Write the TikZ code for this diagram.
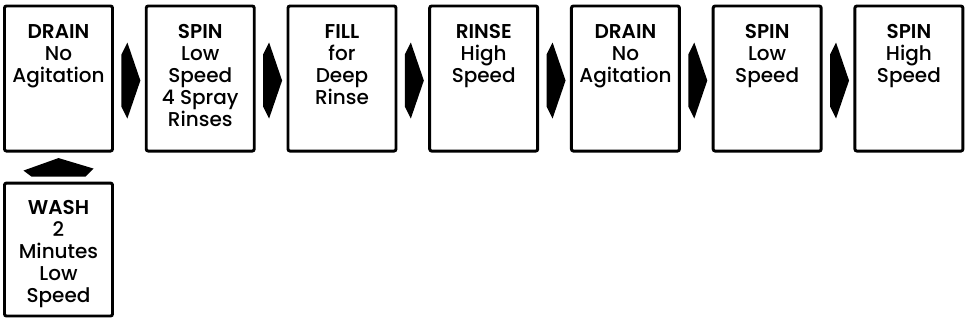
\documentclass[tikz,border=0pt]{standalone}
\usepackage{fontspec}
\setmainfont{Poppins}[UprightFont=* Medium, BoldFont=* SemiBold]
\usetikzlibrary{positioning, calc}

\begin{document}
\begin{tikzpicture}[
    x=0.75pt, y=-0.75pt,
    node distance=24pt and 25.3pt,
    stepbox/.style={draw, line width=2.2pt, rounded corners=1.5pt, outer sep=0pt, minimum width=81pt, inner xsep=1pt, inner ysep=13.9pt, font=\fontsize{15}{16.5}\selectfont,
      execute at begin node={\begin{minipage}[t][#1][t]{79pt}\centering},
      execute at end node={\end{minipage}}},
    stepbox/.default=81pt,
    flow/.style={fill=black}
]
\useasboundingbox (0,0) rectangle (966,323);

% Nodes
\node (drainA) [stepbox, anchor=north west] at (4.5,6) {\textbf{DRAIN}\\No\\Agitation};
\node (spinA) [stepbox, right=of drainA] {\textbf{SPIN}\\Low\\Speed\\4 Spray\\Rinses};
\node (fill) [stepbox, right=of spinA] {\textbf{FILL}\\for\\Deep\\Rinse};
\node (rinse) [stepbox, right=of fill] {\textbf{RINSE}\\High\\Speed};
\node (drainB) [stepbox, right=of rinse] {\textbf{DRAIN}\\No\\Agitation};
\node (spinB) [stepbox, right=of drainB] {\textbf{SPIN}\\Low\\Speed};
\node (spinC) [stepbox, right=of spinB] {\textbf{SPIN}\\High\\Speed};
\node (wash) [stepbox=73.5pt, inner ysep=13.1pt, below=of drainA] {\textbf{WASH}\\2\\Minutes\\Low\\Speed};

% Arrows
\foreach \a/\b in {drainA/spinA, spinA/fill, fill/rinse, rinse/drainB, drainB/spinB, spinB/spinC}
  \fill[flow] ($(\a.east)!0.5!(\b.west)$) +(-8,-24) -- +(-2,-36) -- +(11,2) -- +(-2,40) -- +(-8,28) -- cycle;
\fill[flow] ($(wash.north)!0.5!(drainA.south)$) +(-27,9.5) -- +(-35,3.5) -- +(0,-9) -- +(35,1.5) -- +(27,9.5) -- cycle;

\end{tikzpicture}
\end{document}
